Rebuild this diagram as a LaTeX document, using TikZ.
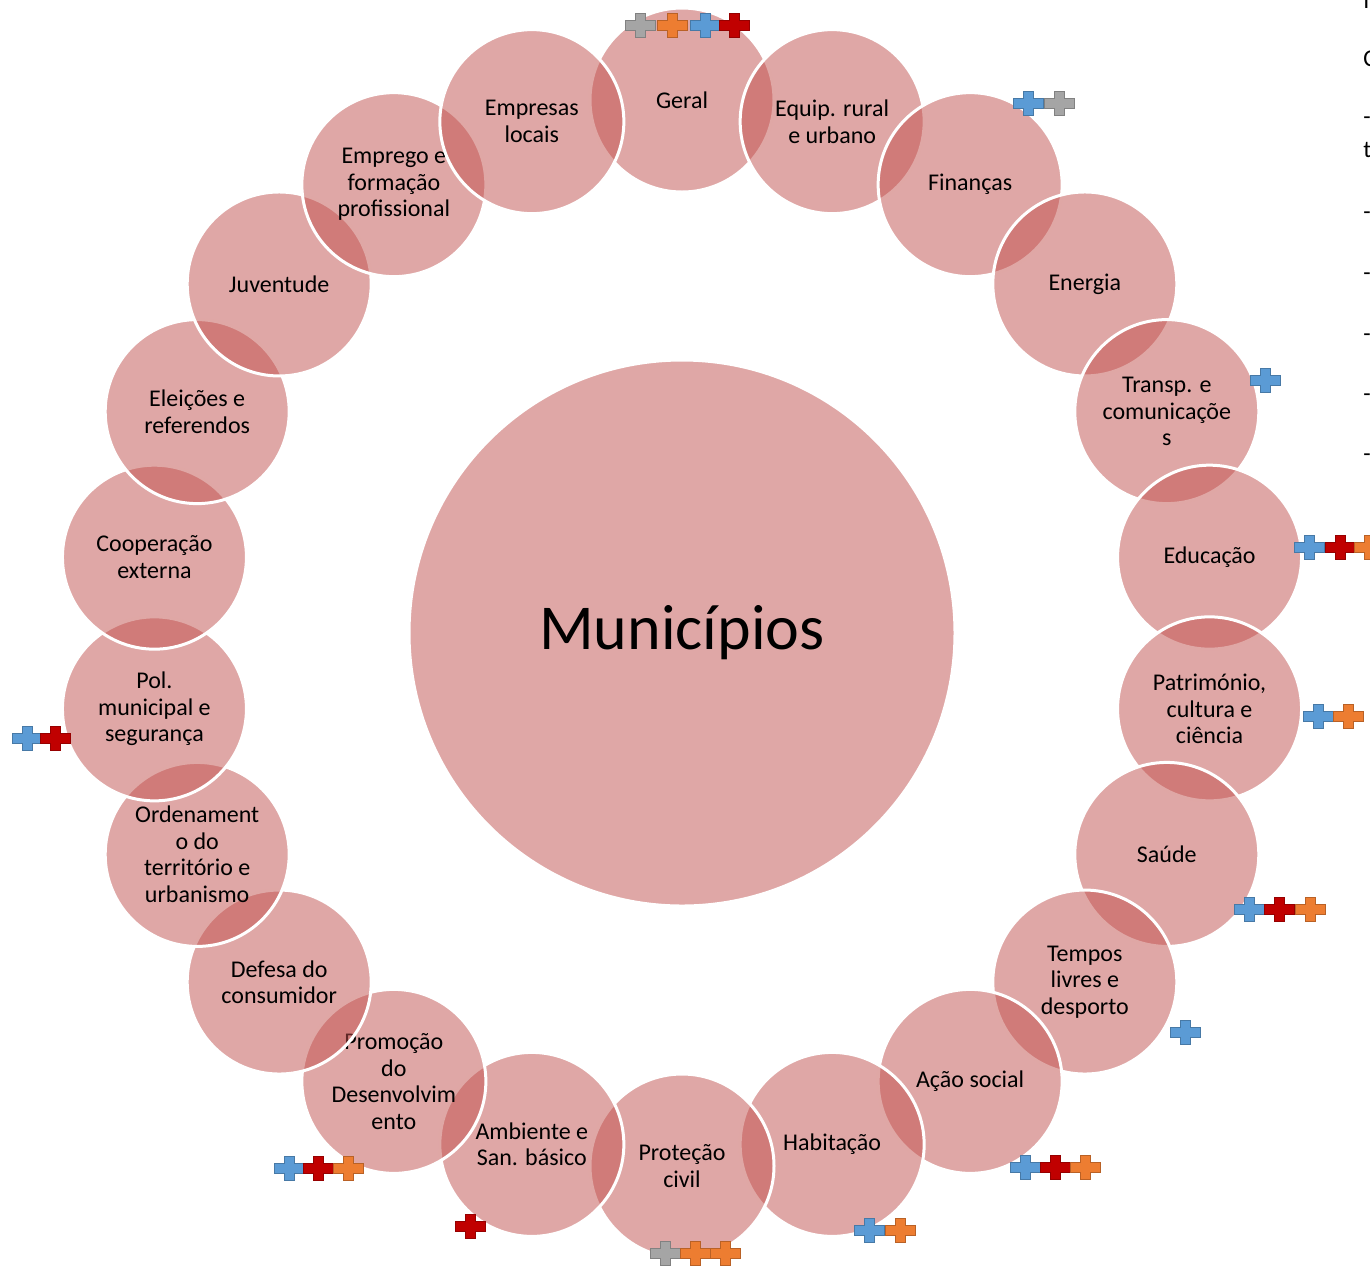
\documentclass[tikz,border=0pt]{standalone}
\usepackage{fontspec}
\setmainfont{Carlito}
\definecolor{ringred}{RGB}{192,80,77}
\definecolor{pgray}{RGB}{165,165,165}
\definecolor{porange}{RGB}{237,125,49}
\definecolor{pblue}{RGB}{91,155,213}
\definecolor{pred}{RGB}{192,0,0}
\newcommand\crossmk[3]{%
  \fill[#3, draw=#3!78!black, line width=0.5pt]
    ({#1-15},{#2-5}) -- ({#1-5},{#2-5}) -- ({#1-5},{#2-12}) -- ({#1+5},{#2-12})
    -- ({#1+5},{#2-5}) -- ({#1+15},{#2-5}) -- ({#1+15},{#2+5}) -- ({#1+5},{#2+5})
    -- ({#1+5},{#2+12}) -- ({#1-5},{#2+12}) -- ({#1-5},{#2+5}) -- ({#1-15},{#2+5}) -- cycle;}
\begin{document}
\begin{tikzpicture}[x=0.5pt,y=-0.5pt,
  bubble/.style={circle, fill=ringred, fill opacity=0.5, text opacity=1,
    draw=white, line width=1.5pt, minimum size=92pt, inner sep=0pt,
    align=center, font=\fontsize{12}{13.25}\selectfont},
  frag/.style={anchor=base west, inner sep=0pt, font=\fontsize{12}{14}\selectfont}]
\useasboundingbox (0,0) rectangle (1370,1265);
\clip (0,0) rectangle (1370,1265);
\node[bubble, minimum size=273pt, font=\fontsize{32}{38}\selectfont] (hub) at (682,633) {Municípios};
\foreach \i/\lbl in {0/Geral, 1/{Equip. rural\\e urbano}, 2/Finanças, 3/Energia,
  4/{Transp. e\\comunicaçõe\\s}, 5/Educação, 6/{Património,\\cultura e\\ciência},
  7/Saúde, 8/{Tempos\\livres e\\desporto}, 9/{Ação social}, 10/Habitação,
  11/{Proteção\\civil}, 12/{Ambiente e\\San. básico}, 13/{Promoção\\do\\Desenvolvim\\ento},
  14/{Defesa do\\consumidor}, 15/{Ordenament\\o do\\território e\\urbanismo},
  16/{Pol.\\municipal e\\segurança}, 17/{Cooperação\\externa}, 18/{Eleições e\\referendos},
  19/Juventude, 20/{Emprego e\\formação\\profissional}, 21/{Empresas\\locais}} {
  \node[bubble] (c\i) at ({682+533*cos(90-\i*360/22)},{633-533*sin(90-\i*360/22)}) {\lbl};
}
% plus marks
\crossmk{640}{25}{pgray}\crossmk{672}{25}{porange}\crossmk{705}{25}{pblue}\crossmk{734}{25}{pred}
\crossmk{1028}{103}{pblue}\crossmk{1059}{103}{pgray}
\crossmk{1265}{380}{pblue}
\crossmk{1309}{547}{pblue}\crossmk{1340}{547}{pred}\crossmk{1369}{547}{porange}
\crossmk{1318}{716}{pblue}\crossmk{1348}{716}{porange}
\crossmk{1249}{909}{pblue}\crossmk{1279}{909}{pred}\crossmk{1310}{909}{porange}
\crossmk{1185}{1032}{pblue}
\crossmk{1025}{1167}{pblue}\crossmk{1055}{1167}{pred}\crossmk{1085}{1167}{porange}
\crossmk{869}{1230}{pblue}\crossmk{900}{1230}{porange}
\crossmk{665}{1253}{pgray}\crossmk{695}{1253}{porange}\crossmk{725}{1253}{porange}
\crossmk{470}{1226}{pred}
\crossmk{289}{1168}{pblue}\crossmk{318}{1168}{pred}\crossmk{348}{1168}{porange}
\crossmk{27}{738}{pblue}\crossmk{55}{738}{pred}
% cut-off text at the right edge
\node[frag] (f1) at (1363,8) {I};
\node[frag] (f2) at (1363,66) {C};
\node[frag] (f3) at (1363,124) {-};
\node[frag] (f4) at (1363,157) {t};
\node[frag] (f5) at (1363,219) {-};
\node[frag] (f6) at (1363,280) {-};
\node[frag] (f7) at (1363,341) {-};
\node[frag] (f8) at (1363,401) {-};
\node[frag] (f9) at (1363,461) {-};
\end{tikzpicture}
\end{document}
